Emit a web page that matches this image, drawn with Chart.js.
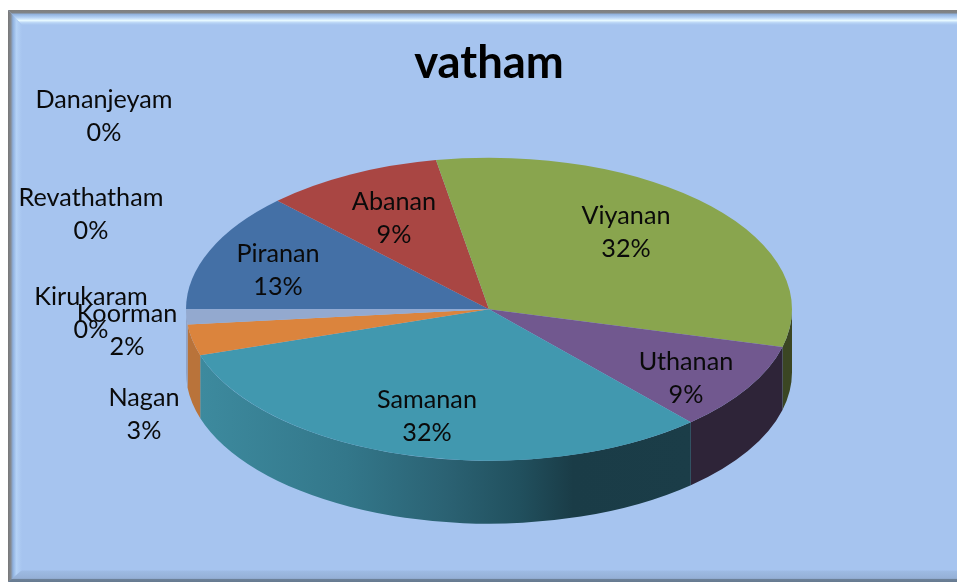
<!DOCTYPE html>
<html><head><meta charset="utf-8">
<style>html,body{margin:0;padding:0;background:#fff;overflow:hidden}#w{position:absolute;left:0;top:0;width:957px;height:582px}</style>
<script src="https://cdn.jsdelivr.net/npm/chart.js@4"></script></head>
<body><div id="w"><canvas id="c" width="957" height="582"></canvas></div>
<script>
const categories = ["Piranan","Abanan","Viyanan","Uthanan","Samanan","Nagan","Koorman","Kirukaram","Revathatham","Dananjeyam"];
const shareValues = [12.7,9.5,31.8,9.4,31.7,3.3,1.6,0,0,0];
const shareLabels = ["13%","9%","32%","9%","32%","3%","2%","0%","0%","0%"];
const topColors = ["#4470a6","#a94643","#89a54e","#71588f","#4198af","#db843d","#93a9cf","#d19392","#b9cd96","#a99bbd"];
const wallColors = ["#2f4f75","#7a3230","#3b4623","#2e2438",null,"#b9733a","#8fa3c8","#9a6c6b","#88976e","#7c728b"];
const samananWallStops = [[0,"#3d8a9e"],[0.3,"#33778a"],[0.5,"#2b6273"],[0.65,"#21505e"],[0.76,"#1a3c47"],[1,"#1b3d48"]];

const titleText = "vatham";
const labelSpots = {Dananjeyam:[104,100],Revathatham:[91,198],Kirukaram:[91,297],Koorman:[127,314],Nagan:[144,398],Piranan:[278,254],Abanan:[394,202],Viyanan:[626,216],Uthanan:[686,362],Samanan:[427,400]};
const squash = 0.5, wallDepth = 63;

const frame = {id:"frame",beforeDraw(chart){
  const c=chart.ctx,W=957,H=582,L=8,T=10;
  c.save();
  c.fillStyle="#ffffff";c.fillRect(0,0,W,H);
  c.fillStyle="#a6c4ef";c.fillRect(L,T,W-L,H-T);
  let g=c.createLinearGradient(0,T,0,T+15);
  g.addColorStop(0,"#7f7f7f");g.addColorStop(0.2,"#808488");g.addColorStop(0.27,"#8fb0dc");g.addColorStop(0.5,"#b5d2f5");g.addColorStop(0.7,"#e6f8ff");g.addColorStop(0.85,"#b8d4f5");g.addColorStop(1,"#a6c4ef");
  c.fillStyle=g;c.beginPath();c.moveTo(L,T);c.lineTo(W,T);c.lineTo(W,T+15);c.lineTo(L+14,T+15);c.closePath();c.fill();
  g=c.createLinearGradient(L,0,L+14,0);
  g.addColorStop(0,"#777777");g.addColorStop(0.2,"#858a90");g.addColorStop(0.35,"#8eb0de");g.addColorStop(0.6,"#b4d2f6");g.addColorStop(1,"#a6c4ef");
  c.fillStyle=g;c.beginPath();c.moveTo(L,T);c.lineTo(L+14,T+15);c.lineTo(L+14,H-10);c.lineTo(L,H);c.closePath();c.fill();
  g=c.createLinearGradient(0,H-12,0,H);
  g.addColorStop(0,"#a6c4ef");g.addColorStop(0.1,"#9dbae2");g.addColorStop(0.7,"#95b0d6");g.addColorStop(0.78,"#6c8097");g.addColorStop(1,"#667a90");
  c.fillStyle=g;c.beginPath();c.moveTo(L,H);c.lineTo(L+14,H-12);c.lineTo(W,H-12);c.lineTo(W,H);c.closePath();c.fill();
  c.restore();
}};

const tilt = {id:"tilt",
  beforeDatasetsDraw(chart){
    const c=chart.ctx,arcs=chart.getDatasetMeta(0).data;
    const cx=arcs[0].x,cy=arcs[0].y,R=arcs[0].outerRadius,ry=R*squash;
    arcs.forEach((a,i)=>{
      const neg=a.startAngle<0&&a.endAngle<0;
      const s=neg?a.startAngle+2*Math.PI:a.startAngle;
      const e=neg?a.endAngle+2*Math.PI:a.endAngle;
      const from=Math.max(s,0), to=Math.min(e,Math.PI);
      if(to<=from) return;
      c.beginPath();
      c.ellipse(cx,cy,R,ry,0,from,to);
      c.ellipse(cx,cy+wallDepth,R,ry,0,to,from,true);
      c.closePath();
      if(wallColors[i]){c.fillStyle=wallColors[i];}
      else{
        const x0=cx+R*Math.cos(to),x1=cx+R*Math.cos(from);
        const g=c.createLinearGradient(x0,0,x1,0);
        samananWallStops.forEach(p=>g.addColorStop(p[0],p[1]));
        c.fillStyle=g;
      }
      c.fill();
    });
    c.save();
    c.translate(cx,cy);c.scale(1,squash);c.translate(-cx,-cy);
  },
  afterDatasetsDraw(chart){
    const c=chart.ctx;c.restore();
    c.save();
    c.font='25.2px Lato';c.fillStyle="#0a0a0a";c.textAlign="center";c.textBaseline="middle";
    const lh=32.6;
    categories.forEach((n,i)=>{
      const p=labelSpots[n];
      c.fillText(n,p[0],p[1]);
      c.fillText(shareLabels[i],p[0],p[1]+lh);
    });
    c.restore();
  }
};

new Chart(document.getElementById("c"),{
  type:"pie",
  data:{labels:categories,datasets:[{data:shareValues,backgroundColor:topColors,borderWidth:0,radius:303,clip:false}]},
  options:{
    responsive:false,animation:false,rotation:-90,
    layout:{padding:{left:21,right:0,top:0,bottom:54}},
    plugins:{
      legend:{display:false},tooltip:{enabled:false},
      title:{display:true,text:titleText,color:"#000000",font:{family:"Lato",size:45.4,weight:"bold",lineHeight:1.2},padding:{top:36,bottom:0}}
    }
  },
  plugins:[frame,tilt]
});
</script></body></html>
